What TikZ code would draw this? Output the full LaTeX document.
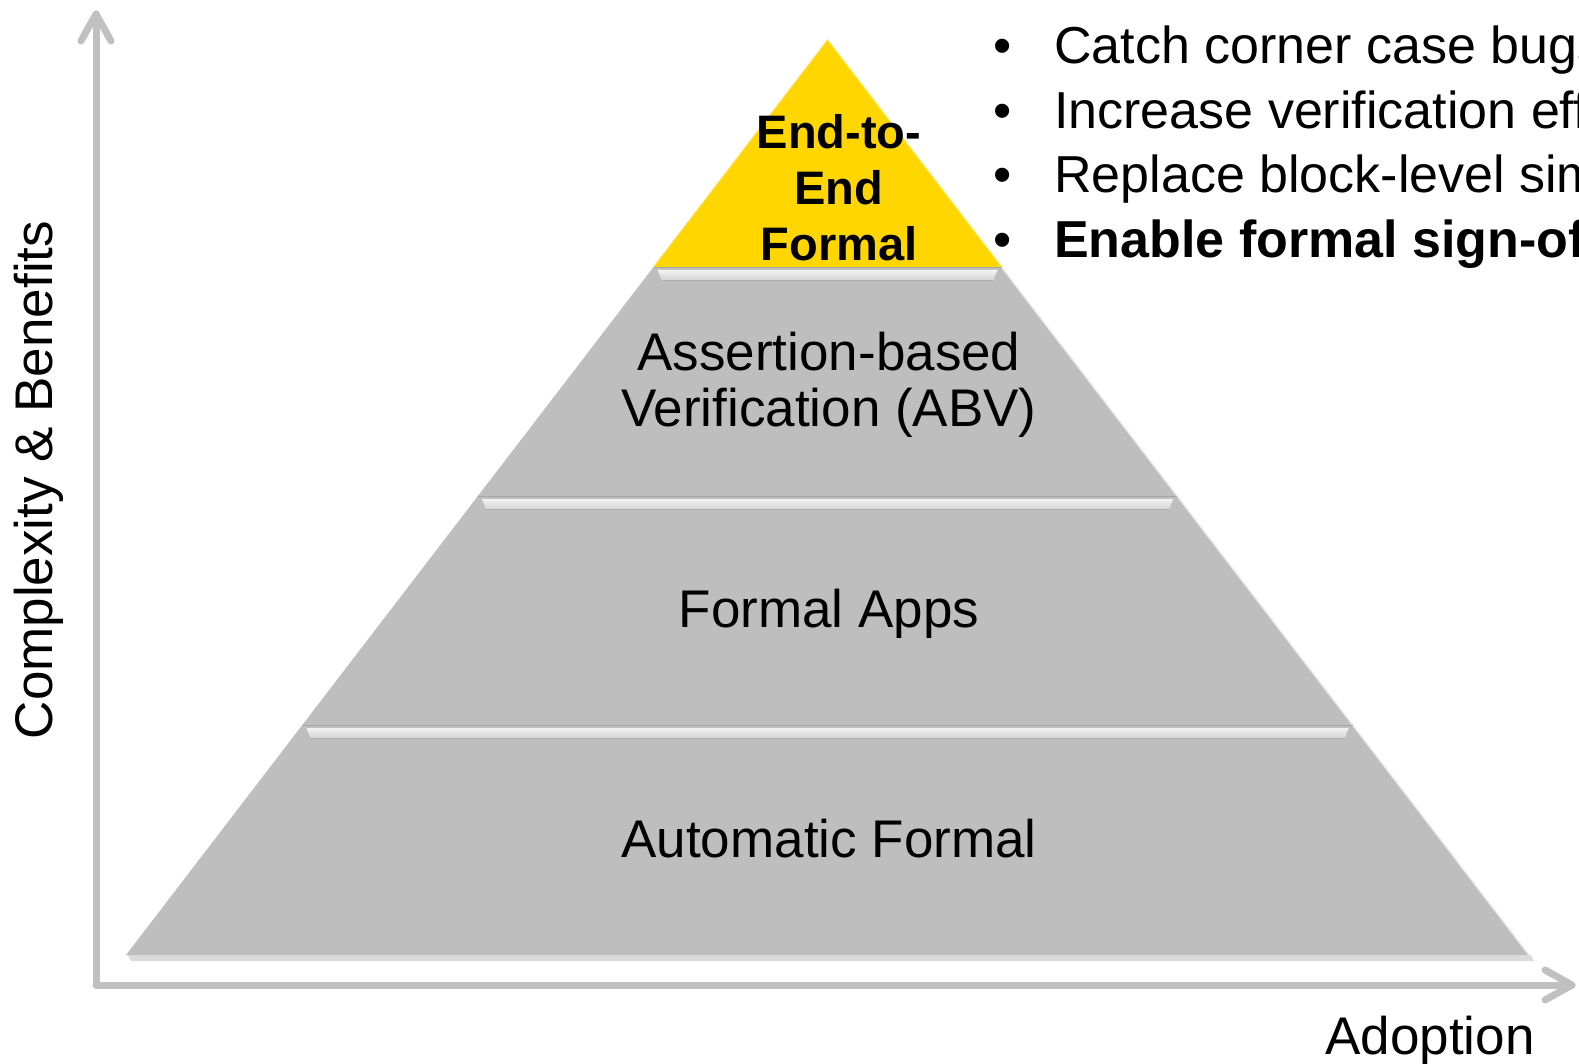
\documentclass[tikz,border=0pt]{standalone}
\usepackage{fontspec}
\setmainfont{Liberation Sans}
\definecolor{tiergray}{RGB}{190,190,190}
\definecolor{axisgray}{RGB}{192,192,192}
\definecolor{topyellow}{RGB}{255,214,0}
\begin{document}
\begin{tikzpicture}[x=1pt,y=-1pt,
  tierlabel/.style={font=\fontsize{53}{56}\selectfont, align=center, inner sep=0pt},
  toplabel/.style={font=\bfseries\fontsize{47}{56}\selectfont, align=center, inner sep=0pt},
  bullettext/.style={font=\fontsize{52}{64}\selectfont, anchor=base west, inner sep=0pt},
  bulletdot/.style={font=\fontsize{52}{64}\selectfont, anchor=base, inner sep=0pt},
  axislabel/.style={font=\fontsize{53}{56}\selectfont, inner sep=0pt},
  axisline/.style={draw=axisgray, line width=7pt, line cap=round, line join=round},
  tier/.style={fill=tiergray},
  bevel/.style={top color=white!80!tiergray, middle color=white, bottom color=white!35!tiergray},
  edgelight/.style={draw=white!70!tiergray, line width=1.5pt}]
\useasboundingbox (0,0) rectangle (1579,1064);
\clip (0,0) rectangle (1579,1064);
% pyramid geometry
\coordinate (apex) at (827.5,40);
\coordinate (l1) at (653.5,267);  \coordinate (r1) at (1001.5,267);
\coordinate (l2) at (477.9,496);  \coordinate (r2) at (1177.1,496);
\coordinate (l3) at (302.3,725);  \coordinate (r3) at (1352.7,725);
\coordinate (l4) at (126,955);    \coordinate (r4) at (1529,955);
% shadow
\fill[black!14] (128,955) -- (1531,955) -- (1534,961) -- (131,961) -- cycle;
% tiers
\fill[tier] (l3) -- (r3) -- (r4) -- (l4) -- cycle;
\fill[tier] (l2) -- (r2) -- (r3) -- (l3) -- cycle;
\fill[tier] (l1) -- (r1) -- (r2) -- (l2) -- cycle;
\fill[topyellow] (apex) -- (r1) -- (l1) -- cycle;
\draw[draw=topyellow!70!white, line width=1pt] (l1) -- (apex) -- (r1);
% right edge highlights
\draw[edgelight] (r1) -- (r2);
\draw[edgelight] (r2) -- (r3);
\draw[edgelight] (r3) -- (r4);
% bevel strips
\foreach \t/\xl/\xr in {267/653.5/1001.5, 496/477.9/1177.1, 725/302.3/1352.7}{
  \draw[tiergray!88!black, line width=1pt] (\xl,\t+0.5) -- (\xr,\t+0.5);
  \shade[bevel] (\xl+4,\t+3) -- (\xr-4,\t+3) -- (\xr-8,\t+13) -- (\xl+8,\t+13) -- cycle;
  \draw[tiergray!92!black, line width=0.8pt] (\xl+8,\t+13.5) -- (\xr-8,\t+13.5);
}
% axes
\coordinate (origin) at (96,985);
\coordinate (ytip) at (96,14);
\coordinate (xtip) at (1572,985);
\coordinate (yarmL) at (81,41);
\coordinate (yarmR) at (111,41);
\coordinate (xarmT) at (1545,970);
\coordinate (xarmB) at (1545,1000);
\draw[axisline] (origin) -- (ytip);
\draw[axisline] (yarmL) -- (ytip) -- (yarmR);
\draw[axisline] (origin) -- (xtip);
\draw[axisline] (xarmT) -- (xtip) -- (xarmB);
% labels
\node[axislabel, rotate=90] (ylabel) at (39,480) {Complexity \& Benefits};
\node[axislabel] (xlabel) at (1430,1041) {Adoption};
\node[toplabel] (t1) at (839,188) {End-to-\\End\\Formal};
\node[tierlabel] (t2) at (829,385) {Assertion-based\\Verification (ABV)};
\node[tierlabel] (t3) at (829,614) {Formal Apps};
\node[tierlabel] (t4) at (829,839) {Automatic Formal};
% bullets
\foreach \i/\y/\txt in {1/64/{Catch corner case bugs}, 2/128.5/{Increase verification efficiency}, 3/193/{Replace block-level simulation}}{
  \node[bulletdot] (b\i) at (1003,\y) {•};
  \node[bullettext] (bt\i) at (1054,\y) {\txt};
}
\node[bulletdot] (b4) at (1003,257.5) {•};
\node[bullettext, font=\bfseries\fontsize{52}{64}\selectfont] (bt4) at (1054,257.5) {Enable formal sign-off};
\end{tikzpicture}
\end{document}
